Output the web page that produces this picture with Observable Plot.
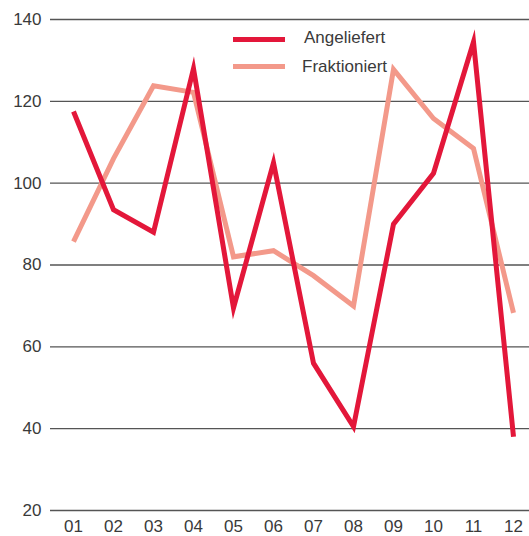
<!DOCTYPE html>
<html>
<head>
<meta charset="utf-8">
<script src="https://cdn.jsdelivr.net/npm/d3@7"></script>
<script src="https://cdn.jsdelivr.net/npm/@observablehq/plot@0.6"></script>
<style>
  html, body { margin: 0; padding: 0; background: #fff; }
  #wrap { position: relative; width: 529px; height: 536px; font-family: "Liberation Sans", Arial, sans-serif; }
  .leg-line { position: absolute; height: 5px; }
  .leg-text { position: absolute; font-size: 17px; line-height: 17px; color: #3a3a3a; white-space: nowrap; }
</style>
</head>
<body>
<div id="wrap"></div>
<script>
const months = ["01","02","03","04","05","06","07","08","09","10","11","12"];
const angeliefert = [117.5, 93.5, 88, 128, 69.5, 105, 56, 40.5, 90, 102.4, 134.5, 38];
const fraktioniert = [85.7, 106, 123.8, 122.2, 82, 83.5, 77.4, 70, 127.8, 115.8, 108.5, 68.3];
const yTicks = [20, 40, 60, 80, 100, 120, 140];
const seriesNames = ["Angeliefert", "Fraktioniert"];
const seriesColors = ["#e3173a", "#f3998a"];

const dataA = months.map((m, i) => ({month: m, value: angeliefert[i]}));
const dataF = months.map((m, i) => ({month: m, value: fraktioniert[i]}));

const chart = Plot.plot({
  width: 529,
  height: 536,
  marginLeft: 50,
  marginRight: 0,
  marginTop: 19,
  marginBottom: 26,
  style: {fontFamily: '"Liberation Sans", Arial, sans-serif', fontSize: "17px", color: "#3a3a3a", background: "#fff"},
  x: {type: "point", domain: months, range: [70, 516], padding: 0, label: null},
  y: {domain: [20, 140], range: [510, 19], label: null},
  marks: [
    Plot.ruleY(yTicks, {stroke: "#555", strokeWidth: 1.3}),
    Plot.axisY(yTicks, {tickSize: 0, tickPadding: 9, label: null}),
    Plot.axisX({tickSize: 0, tickPadding: 9, label: null}),
    Plot.line(dataF, {x: "month", y: "value", stroke: seriesColors[1], strokeWidth: 5, strokeLinejoin: "miter", strokeMiterlimit: 20, strokeLinecap: "butt"}),
    Plot.line(dataA, {x: "month", y: "value", stroke: seriesColors[0], strokeWidth: 5, strokeLinejoin: "miter", strokeMiterlimit: 20, strokeLinecap: "butt"})
  ]
});
const wrap = document.getElementById("wrap");
wrap.appendChild(chart);

const legendPos = [{lineY: 37, textTop: 29, textLeft: 304}, {lineY: 63.5, textTop: 58, textLeft: 302}];
seriesNames.forEach((name, i) => {
  const l = document.createElement("div");
  l.className = "leg-line";
  l.style.left = "233px";
  l.style.width = "52px";
  l.style.top = legendPos[i].lineY + "px";
  l.style.background = seriesColors[i];
  wrap.appendChild(l);
  const t = document.createElement("div");
  t.className = "leg-text";
  t.style.left = legendPos[i].textLeft + "px";
  t.style.top = legendPos[i].textTop + "px";
  t.textContent = name;
  wrap.appendChild(t);
});
</script>
</body>
</html>
